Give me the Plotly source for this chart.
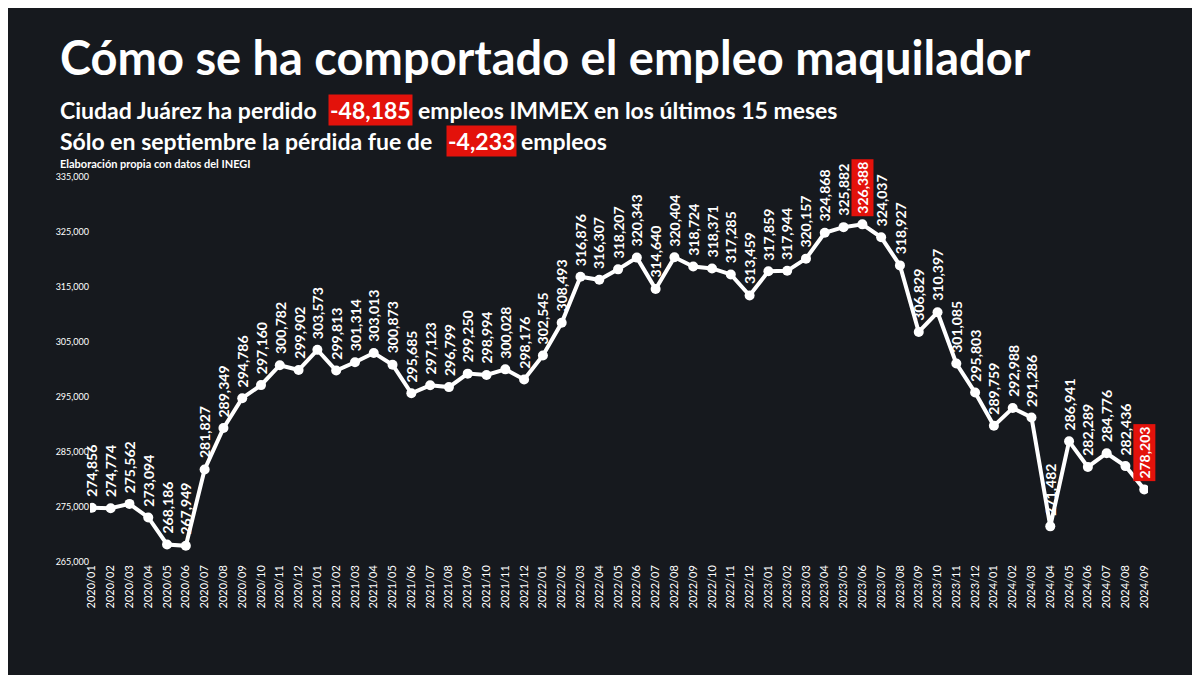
import plotly.graph_objects as go

months = [f"{y}/{m:02d}" for y in range(2020, 2025) for m in range(1, 13)][:57]
values = [274856,274774,275562,273094,268186,267949,281827,289349,294786,297160,300782,299902,
          303573,299813,301314,303013,300873,295685,297123,296799,299250,298994,300028,298176,
          302545,308493,316876,316307,318207,320343,314640,320404,318724,318371,317285,313459,
          317859,317944,320157,324868,325882,326388,324037,318927,306829,310397,301085,295803,
          289759,292988,291286,271482,286941,282289,284776,282436,278203]
highlight = {"2023/06", "2024/09"}
yticks = list(range(265000, 335001, 10000))

fig = go.Figure()
fig.add_trace(go.Scatter(x=months, y=values, mode="lines+markers",
                         line=dict(color="white", width=4),
                         marker=dict(color="white", size=10), hoverinfo="skip"))
for m, v in zip(months, values):
    hl = m in highlight
    fig.add_annotation(x=m, y=v, text=f"<b>{v:,}</b>", textangle=-90, showarrow=False,
                       yanchor="bottom", yshift=8,
                       font=dict(family="Lato", size=14, color="white"),
                       bgcolor="#e3120b" if hl else "rgba(0,0,0,0)", borderpad=2)

font = "Lato"
L, T, R = 82, 169, 60
W = 1200 - L - R
def px(x):
    return (x - 8 - L) / W
def py(y):
    return 1 + (T + 8 - y) / 385

def txt(x, y, s, size, bg=None):
    fig.add_annotation(xref="paper", yref="paper", x=px(x), y=py(y), xanchor="left", yanchor="middle",
                       text=f"<b>{s}</b>", showarrow=False, bgcolor=bg or "rgba(0,0,0,0)", borderpad=1,
                       font=dict(family=font, size=size, color="white"))

txt(58, 57, "Cómo se ha comportado el empleo maquilador", 47)
txt(58, 110, "Ciudad Juárez ha perdido", 23)
txt(328, 110, "-48,185", 23, "#e3120b")
txt(416, 110, "empleos IMMEX en los últimos 15 meses", 23)
txt(58, 141, "Sólo en septiembre la pérdida fue de", 23)
txt(446, 141, "-4,233", 23, "#e3120b")
txt(519, 141, "empleos", 23)
txt(58, 163, "Elaboración propia con datos del INEGI", 11)

fig.update_layout(width=1200, height=675, paper_bgcolor="#16191e", plot_bgcolor="rgba(0,0,0,0)",
                  margin=dict(l=L, r=R, t=T, b=121), showlegend=False,
                  xaxis=dict(tickangle=-90, tickfont=dict(family=font, size=11, color="white"),
                             showgrid=False, zeroline=False, showline=False, range=[-0.1, 56.2]),
                  yaxis=dict(range=[265000, 335000], tickvals=yticks,
                             ticktext=[f"{t:,}" for t in yticks], showgrid=False, zeroline=False,
                             tickfont=dict(family=font, size=9, color="white")))
fig.write_html("out.html")
